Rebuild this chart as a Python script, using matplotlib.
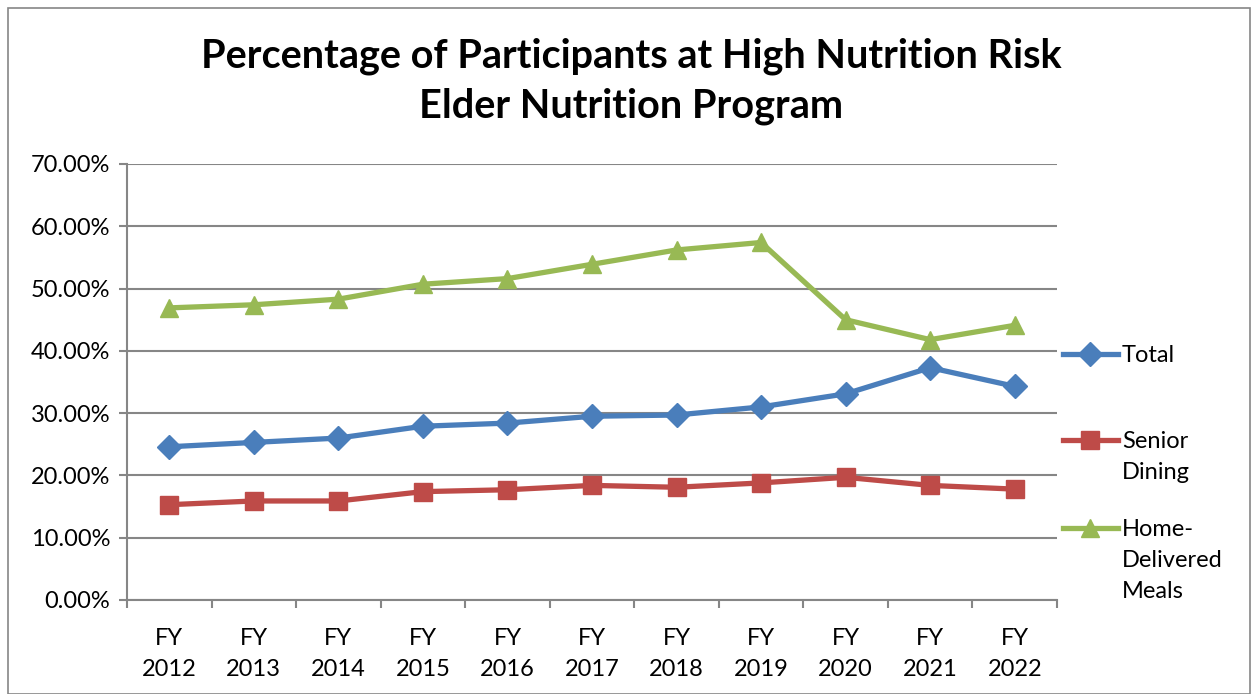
import matplotlib.pyplot as plt
from matplotlib.lines import Line2D
from matplotlib.patches import Rectangle
from matplotlib.ticker import FuncFormatter, FixedLocator

plt.rcParams['font.family'] = ['Lato', 'DejaVu Sans']

years = ['FY\n2012', 'FY\n2013', 'FY\n2014', 'FY\n2015', 'FY\n2016', 'FY\n2017',
         'FY\n2018', 'FY\n2019', 'FY\n2020', 'FY\n2021', 'FY\n2022']
total = [24.6, 25.3, 26.0, 27.9, 28.4, 29.5, 29.7, 31.0, 33.1, 37.3, 34.3]
senior_dining = [15.3, 15.9, 15.9, 17.4, 17.7, 18.4, 18.1, 18.8, 19.7, 18.4, 17.8]
home_delivered = [46.9, 47.4, 48.3, 50.7, 51.6, 53.9, 56.2, 57.4, 45.0, 41.8, 44.1]

series = [
    ('Total', total, '#4A7EBB', 'D', 12.5),
    ('Senior\nDining', senior_dining, '#BE4B48', 's', 13),
    ('Home-\nDelivered\nMeals', home_delivered, '#98B954', '^', 13.5),
]

W, H = 1252, 694
fig = plt.figure(figsize=(W / 100, H / 100), dpi=100)
ax = fig.add_axes([127 / W, 1 - 600 / H, 930 / W, 436 / H])

x = list(range(len(years)))
for name, vals, col, mk, ms in series:
    ax.plot(x, vals, color=col, lw=3.8, marker=mk, ms=ms, mec=col, mfc=col, zorder=3)

grid_c = '#868686'
ax.set_xlim(-0.5, len(years) - 0.5)
ax.set_ylim(0, 70)
ax.set_yticks(range(0, 71, 10))
ax.yaxis.set_major_formatter(FuncFormatter(lambda v, p: '%.2f%%' % v))
ax.grid(axis='y', color=grid_c, lw=1.5)
ax.set_axisbelow(True)
ax.set_xticks(x)
ax.set_xticklabels(years, fontsize=17, linespacing=1.6)
ax.xaxis.set_minor_locator(FixedLocator([i - 0.5 for i in range(len(years) + 1)]))
ax.tick_params(axis='x', which='major', length=0, pad=20)
ax.tick_params(axis='x', which='minor', length=6, color=grid_c, width=1.5)
ax.tick_params(axis='y', length=6, color=grid_c, width=1.5, labelsize=17, pad=6)
for s in ['top', 'right']:
    ax.spines[s].set_visible(False)
for s in ['left', 'bottom']:
    ax.spines[s].set_color(grid_c)
    ax.spines[s].set_linewidth(1.5)

fig.text(631 / W, 1 - 56 / H, 'Percentage of Participants at High Nutrition Risk',
         ha='center', va='center', fontsize=28.5, fontweight='bold')
fig.text(631 / W, 1 - 106 / H, 'Elder Nutrition Program',
         ha='center', va='center', fontsize=28.5, fontweight='bold')

# legend, drawn by hand so the marker sits on the first text line
leg_y = [354, 440, 528]
for (name, vals, col, mk, ms), y in zip(series, leg_y):
    fig.add_artist(Line2D([1063 / W, 1118 / W], [1 - y / H, 1 - y / H], color=col, lw=3.8,
                          transform=fig.transFigure))
    fig.add_artist(Line2D([1090 / W], [1 - y / H], color=col, marker=mk, ms=ms,
                          mec=col, mfc=col, transform=fig.transFigure))
    fig.text(1122 / W, 1 - (y - 9) / H, name, ha='left', va='top', fontsize=17,
             linespacing=1.58)

fig.add_artist(Rectangle((8 / W, 0), 1242 / W, 1 - 8 / H, fill=False, ec=grid_c, lw=1.2,
                         transform=fig.transFigure))

plt.savefig('out.png', dpi=100)
